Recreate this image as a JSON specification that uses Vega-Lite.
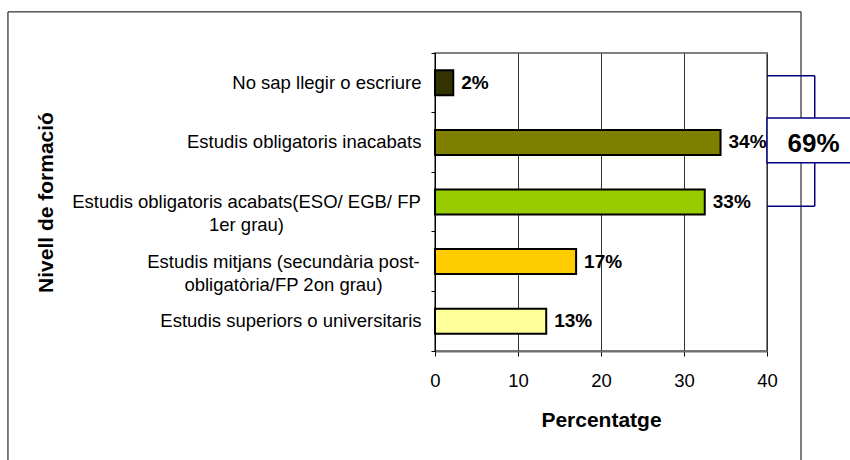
{
  "$schema": "https://vega.github.io/schema/vega-lite/v6.json",
  "width": 332,
  "height": 298,
  "autosize": {"type": "none"},
  "padding": {"left": 435, "top": 53, "right": 83, "bottom": 109},
  "background": "white",
  "config": {
    "font": "Liberation Sans",
    "view": {"stroke": "#808080", "strokeWidth": 2},
    "axis": {"maxExtent": 500}
  },
  "datasets": {
    "levels": [
      {"nivell": "No sap llegir o escriure", "pct": 2.2, "label": "2%"},
      {"nivell": "Estudis obligatoris inacabats", "pct": 34.4, "label": "34%"},
      {"nivell": "Estudis obligatoris acabats(ESO/ EGB/ FP\n1er grau)", "pct": 32.5, "label": "33%"},
      {"nivell": "Estudis mitjans (secundària post-\nobligatòria/FP 2on grau)", "pct": 17.0, "label": "17%"},
      {"nivell": "Estudis superiors o universitaris", "pct": 13.4, "label": "13%"}
    ],
    "total": [{"label": "69%"}]
  },
  "resolve": {"scale": {"y": "independent"}, "axis": {"x": "independent", "y": "independent"}},
  "layer": [
    {
      "data": {"name": "total"},
      "mark": {"type": "rect", "fill": "transparent", "stroke": "black", "strokeWidth": 1},
      "encoding": {
        "x": {"datum": -51.45, "type": "quantitative", "scale": {"domain": [0, 40], "nice": false, "zero": false}, "axis": null},
        "x2": {"datum": 44.1},
        "y": {"datum": -0.69, "type": "quantitative", "scale": {"domain": [0, 5], "reverse": true, "nice": false, "zero": false}, "axis": null},
        "y2": {"datum": 7}
      }
    },
    {
      "data": {"name": "levels"},
      "resolve": {"axis": {"y": "independent"}},
      "encoding": {
        "x": {
          "field": "pct",
          "type": "quantitative",
          "scale": {"domain": [0, 40], "nice": false, "zero": false},
          "axis": {
            "title": "Percentatge",
            "titleFontSize": 21,
            "titleFontWeight": "bold",
            "titleColor": "black",
            "titlePadding": 20,
            "values": [0, 10, 20, 30, 40],
            "labelFontSize": 18.5,
            "labelColor": "black",
            "labelPadding": 15,
            "labelFlush": false,
            "tickSize": 5,
            "tickColor": "black",
            "domainColor": "#707070",
            "domainWidth": 2,
            "grid": true,
            "gridColor": "#333333",
            "gridWidth": 1
          }
        }
      },
      "layer": [
        {
          "mark": {"type": "bar", "height": {"band": 0.42}, "stroke": "black", "strokeWidth": 2},
          "encoding": {
            "y": {
              "field": "nivell",
              "type": "nominal",
              "sort": null,
              "scale": {"paddingInner": 0, "paddingOuter": 0},
              "axis": {
                "title": null,
                "orient": "left",
                "labelExpr": "indexof(datum.label, '\\n') >= 0 ? '' : datum.label",
                "labelFontSize": 18.5,
                "labelColor": "black",
                "labelLimit": 500,
                "labelAlign": "right",
                "labelPadding": 10,
                "bandPosition": 1,
                "tickExtra": true,
                "tickSize": 4,
                "tickColor": "black",
                "domainColor": "black",
                "grid": false
              }
            },
            "color": {
              "field": "nivell",
              "type": "nominal",
              "sort": null,
              "scale": {"range": ["#333300", "#808000", "#99CC00", "#FFCC00", "#FFFF99"]},
              "legend": null
            }
          }
        },
        {
          "mark": {"type": "text", "align": "left", "baseline": "middle", "dx": 8, "fontSize": 19, "fontWeight": "bold", "color": "black"},
          "encoding": {
            "y": {
              "field": "nivell",
              "type": "nominal",
              "sort": null,
              "axis": {
                "title": "Nivell de formació",
                "titleFontSize": 21,
                "titleFontWeight": "bold",
                "titleColor": "black",
                "titlePadding": 15,
                "orient": "left",
                "labelExpr": "indexof(datum.label, 'ESO') >= 0 ? split(datum.label, '\\n') : ''",
                "labelFontSize": 18.5,
                "labelColor": "black",
                "labelLineHeight": 23,
                "labelLimit": 500,
                "labelAlign": "center",
                "labelPadding": 185,
                "tickSize": 4,
                "tickOpacity": 0,
                "domain": false,
                "grid": false
              }
            },
            "text": {"field": "label"}
          }
        },
        {
          "mark": {"type": "text", "opacity": 0},
          "encoding": {
            "y": {
              "field": "nivell",
              "type": "nominal",
              "sort": null,
              "axis": {
                "title": null,
                "orient": "left",
                "labelExpr": "indexof(datum.label, 'mitjans') >= 0 ? split(datum.label, '\\n') : ''",
                "labelFontSize": 18.5,
                "labelColor": "black",
                "labelLineHeight": 23,
                "labelLimit": 500,
                "labelAlign": "center",
                "labelPadding": 148,
                "tickSize": 4,
                "tickOpacity": 0,
                "domain": false,
                "grid": false
              }
            },
            "text": {"field": "label"}
          }
        }
      ]
    },
    {
      "data": {"name": "total"},
      "encoding": {
        "y": {"datum": 0.38, "type": "quantitative", "scale": {"domain": [0, 5], "reverse": true, "nice": false, "zero": false}, "axis": null}
      },
      "layer": [
        {
          "mark": {"type": "rule", "color": "#000080", "strokeWidth": 1.5},
          "encoding": {
            "x": {"datum": 45.75, "type": "quantitative", "axis": null},
            "y2": {"datum": 2.57}
          }
        },
        {
          "mark": {"type": "rule", "color": "#000080", "strokeWidth": 1.5},
          "encoding": {
            "x": {"datum": 40, "type": "quantitative", "axis": null},
            "x2": {"datum": 45.75}
          }
        },
        {
          "mark": {"type": "rule", "color": "#000080", "strokeWidth": 1.5},
          "encoding": {
            "x": {"datum": 40, "type": "quantitative", "axis": null},
            "x2": {"datum": 45.75},
            "y": {"datum": 2.57, "type": "quantitative"}
          }
        },
        {
          "mark": {"type": "rect", "fill": "white", "stroke": "#000080", "strokeWidth": 1.5},
          "encoding": {
            "x": {"datum": 40, "type": "quantitative", "axis": null},
            "x2": {"datum": 52},
            "y": {"datum": 1.09, "type": "quantitative"},
            "y2": {"datum": 1.84}
          }
        },
        {
          "mark": {"type": "text", "align": "center", "baseline": "middle", "fontSize": 26, "fontWeight": "bold", "color": "black"},
          "encoding": {
            "x": {"datum": 45.6, "type": "quantitative", "axis": null},
            "y": {"datum": 1.52, "type": "quantitative"},
            "text": {"field": "label"}
          }
        }
      ]
    }
  ]
}
